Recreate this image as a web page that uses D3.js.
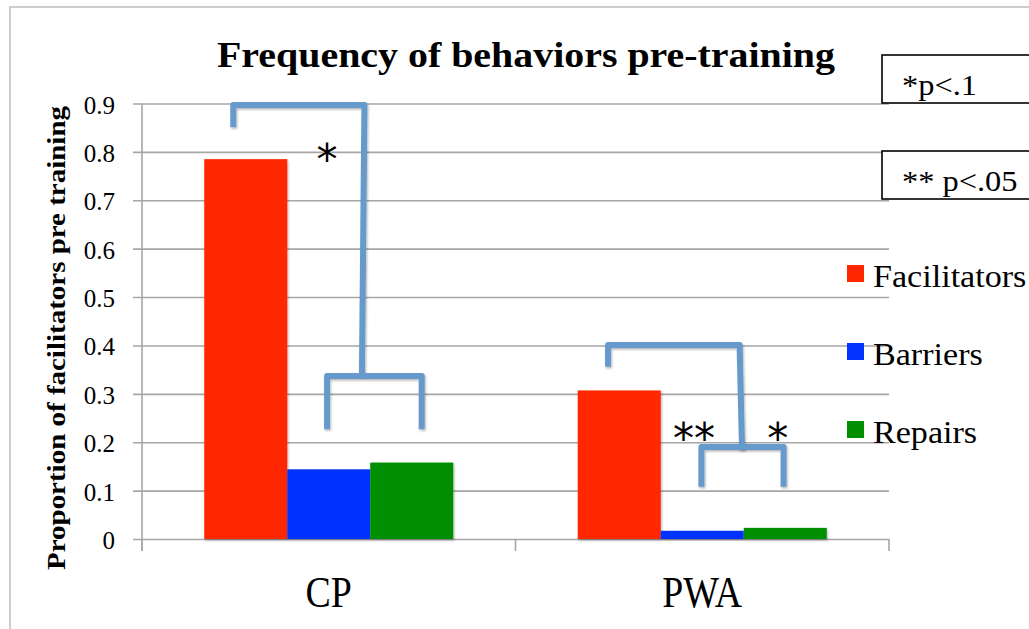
<!DOCTYPE html>
<html>
<head>
<meta charset="utf-8">
<script src="https://cdn.jsdelivr.net/npm/d3@7"></script>
<style>
  body { margin: 0; background: #fff; }
</style>
</head>
<body>
<script>
// data
const categories = ["CP", "PWA"];
const series = ["Facilitators", "Barriers", "Repairs"];
const facilitators = [0.785, 0.307];
const barriers = [0.144, 0.017];
const repairs = [0.158, 0.023];
const yTicks = [0, 0.1, 0.2, 0.3, 0.4, 0.5, 0.6, 0.7, 0.8, 0.9];
const colors = ["#FF2600", "#0433FF", "#008F00"];

// significance brackets, x in bar units from start of group, y in data units
const bracketPaths = [
  { cat: "CP", pts: [[0.35, 0.851], [0.35, 0.897], [1.93, 0.897], [1.90, 0.337]] },
  { cat: "CP", pts: [[1.48, 0.227], [1.48, 0.337], [2.62, 0.337], [2.62, 0.227]] },
  { cat: "PWA", pts: [[0.365, 0.356], [0.365, 0.401], [1.95, 0.401], [1.98, 0.184]] },
  { cat: "PWA", pts: [[1.49, 0.108], [1.49, 0.190], [2.48, 0.190], [2.48, 0.108]] }
];
const stars = [
  { cat: "CP", u: 1.48, v: 0.808, label: "*" },
  { cat: "PWA", u: 1.40, v: 0.232, label: "**" },
  { cat: "PWA", u: 2.41, v: 0.232, label: "*" }
];
const pNotes = ["*p<.1", "** p<.05"];

const values = [facilitators, barriers, repairs];
const serif = "'Liberation Serif', 'DejaVu Serif', serif";

const W = 1029, H = 629;
const svg = d3.select("body").append("svg")
  .attr("width", W)
  .attr("height", H);

const defs = svg.append("defs");
defs.append("filter")
  .attr("id", "shadow")
  .attr("x", "-20%").attr("y", "-20%")
  .attr("width", "140%").attr("height", "140%")
  .append("feDropShadow")
  .attr("dx", 1).attr("dy", 1.5)
  .attr("stdDeviation", 1.2)
  .attr("flood-color", "#000")
  .attr("flood-opacity", 0.3);

// outer frame
svg.append("path")
  .attr("d", "M10," + H + "V7H" + W)
  .attr("fill", "none")
  .attr("stroke", "#BDBDBD")
  .attr("stroke-width", 1.5);

const x = d3.scaleBand().domain(categories).range([142, 889]);
const bw = x.bandwidth();
const xs = d3.scaleBand().domain(series).range([bw / 6, bw * 5 / 6]);
const y = d3.scaleLinear().domain([0, 0.9]).range([539, 103.5]);

// y axis with gridlines
const yAxis = svg.append("g")
  .attr("transform", "translate(142,0)")
  .call(d3.axisLeft(y).tickValues(yTicks).tickSize(-(x.range()[1] - x.range()[0])).tickSizeOuter(0).tickPadding(27)
    .tickFormat(d => d === 0 ? "0" : d3.format(".1f")(d)));
yAxis.select(".domain").remove();
yAxis.selectAll(".tick line")
  .attr("x1", -9)
  .attr("stroke", "#A6A6A6")
  .attr("stroke-width", 1.6);
yAxis.selectAll(".tick text")
  .style("font-family", serif)
  .style("font-size", "25px")
  .attr("fill", "#000")
  .attr("dy", "0.38em");

// axis lines
svg.append("line")
  .attr("x1", 142).attr("x2", 142)
  .attr("y1", y(0.9)).attr("y2", y(0) + 12)
  .attr("stroke", "#A6A6A6").attr("stroke-width", 1.6);
svg.selectAll(".xtick")
  .data(categories.map(c => x(c)).concat([x.range()[1]]))
  .enter().append("line")
  .attr("class", "xtick")
  .attr("x1", d => d).attr("x2", d => d)
  .attr("y1", y(0)).attr("y2", y(0) + 12)
  .attr("stroke", "#A6A6A6").attr("stroke-width", 1.6);

// bars
const groups = svg.selectAll(".grp")
  .data(categories)
  .enter().append("g")
  .attr("class", "grp")
  .attr("transform", d => "translate(" + x(d) + ",0)");

groups.selectAll("rect")
  .data((c, ci) => series.map((s, si) => ({ s: s, si: si, v: values[si][ci] })))
  .enter().append("rect")
  .attr("x", d => xs(d.s))
  .attr("y", d => y(d.v))
  .attr("width", xs.bandwidth())
  .attr("height", d => y(0) - y(d.v))
  .attr("fill", d => colors[d.si])
  .attr("filter", "url(#shadow)");

// category labels
svg.selectAll(".xlab")
  .data(categories)
  .enter().append("text")
  .attr("class", "xlab")
  .attr("transform", d => "translate(" + (x(d) + bw / 2) + ",607) scale(0.86,1)")
  .attr("text-anchor", "middle")
  .style("font-family", serif)
  .style("font-size", "44px")
  .text(d => d);

// brackets
const bx = (cat, u) => x(cat) + xs.range()[0] + u * xs.bandwidth();
const line = d3.line();
svg.selectAll(".bracket")
  .data(bracketPaths)
  .enter().append("path")
  .attr("class", "bracket")
  .attr("d", d => line(d.pts.map(p => [bx(d.cat, p[0]), y(p[1])])))
  .attr("fill", "none")
  .attr("stroke", "#6699CC")
  .attr("stroke-width", 6)
  .attr("stroke-linejoin", "round")
  .attr("filter", "url(#shadow)");

svg.selectAll(".star")
  .data(stars)
  .enter().append("text")
  .attr("class", "star")
  .attr("x", d => bx(d.cat, d.u))
  .attr("y", d => y(d.v))
  .attr("dy", "0.62em")
  .attr("text-anchor", "middle")
  .style("font-family", "'DejaVu Sans', sans-serif")
  .style("font-size", "42px")
  .text(d => d.label);

// title
svg.append("text")
  .attr("x", 217)
  .attr("y", 67)
  .style("font-family", serif)
  .style("font-size", "36px")
  .style("font-weight", "bold")
  .attr("textLength", 618)
  .attr("lengthAdjust", "spacingAndGlyphs")
  .text("Frequency of behaviors pre-training");

// y label
svg.append("text")
  .attr("transform", "translate(65,338) rotate(-90)")
  .attr("text-anchor", "middle")
  .style("font-family", serif)
  .style("font-size", "26px")
  .style("font-weight", "bold")
  .attr("textLength", 464)
  .attr("lengthAdjust", "spacingAndGlyphs")
  .text("Proportion of facilitators pre training");

// legend
const legend = svg.selectAll(".leg")
  .data(series)
  .enter().append("g")
  .attr("class", "leg")
  .attr("transform", (d, i) => "translate(847," + (265 + i * 78) + ")");
legend.append("rect")
  .attr("width", 17).attr("height", 17)
  .attr("fill", (d, i) => colors[i]);
legend.append("text")
  .attr("transform", "translate(26,22) scale(1.1,1)")
  .style("font-family", serif)
  .style("font-size", "31px")
  .text(d => d);

// p-value notes
const notes = svg.selectAll(".note")
  .data(pNotes)
  .enter().append("g")
  .attr("class", "note")
  .attr("transform", (d, i) => "translate(882," + (55 + i * 96) + ")");
notes.append("rect")
  .attr("width", 200).attr("height", 48)
  .attr("fill", "#fff")
  .attr("stroke", "#000")
  .attr("stroke-width", 1.6);
notes.append("text")
  .attr("transform", "translate(20,40) scale(1.08,1)")
  .style("font-family", serif)
  .style("font-size", "30px")
  .text(d => d);
</script>
</body>
</html>
